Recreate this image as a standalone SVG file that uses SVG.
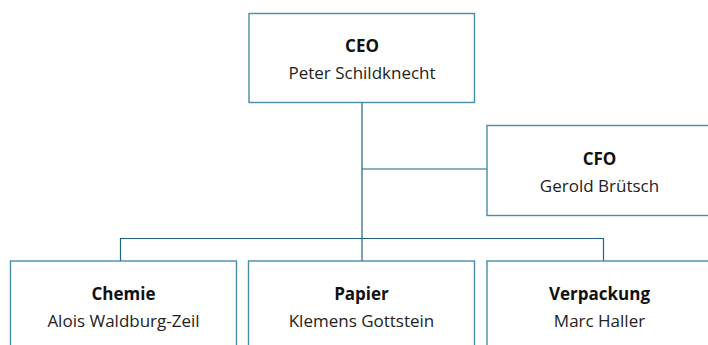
<svg xmlns="http://www.w3.org/2000/svg" width="708" height="345" viewBox="0 0 708 345">
<style>
.box{fill:#ffffff;stroke:#4a8ca6;stroke-width:1.4}
.con{fill:none;stroke:#1f6383;stroke-width:1.2}
.t{font-family:"Open Sans","Liberation Sans",Arial,sans-serif;font-size:17px;fill:#222;text-anchor:middle}
.b{font-weight:bold;fill:#111}
</style>
<rect width="708" height="345" fill="#ffffff"/>
<g id="connectors">
<path class="con" d="M362 102.5V261"/>
<path class="con" d="M362 169H487"/>
<path class="con" d="M120.5 261V238.5H603.5V261"/>
</g>
<g id="ceo">
<rect class="box" x="249" y="13.5" width="225.5" height="89"/>
<text class="t b" x="362" y="52.3">CEO</text>
<text class="t" x="362" y="79">Peter Schildknecht</text>
</g>
<g id="cfo">
<rect class="box" x="487" y="125.5" width="226" height="90"/>
<text class="t b" x="599.5" y="164.5">CFO</text>
<text class="t" x="599.5" y="191.5">Gerold Brütsch</text>
</g>
<g id="chemie">
<rect class="box" x="10.5" y="261" width="226" height="95"/>
<text class="t b" x="123.5" y="300">Chemie</text>
<text class="t" x="123.5" y="327">Alois Waldburg-Zeil</text>
</g>
<g id="papier">
<rect class="box" x="248.5" y="261" width="226" height="95"/>
<text class="t b" x="361.5" y="300">Papier</text>
<text class="t" x="361.5" y="327">Klemens Gottstein</text>
</g>
<g id="verpackung">
<rect class="box" x="487" y="261" width="226" height="95"/>
<text class="t b" x="599.5" y="300">Verpackung</text>
<text class="t" x="599.5" y="327">Marc Haller</text>
</g>
</svg>
